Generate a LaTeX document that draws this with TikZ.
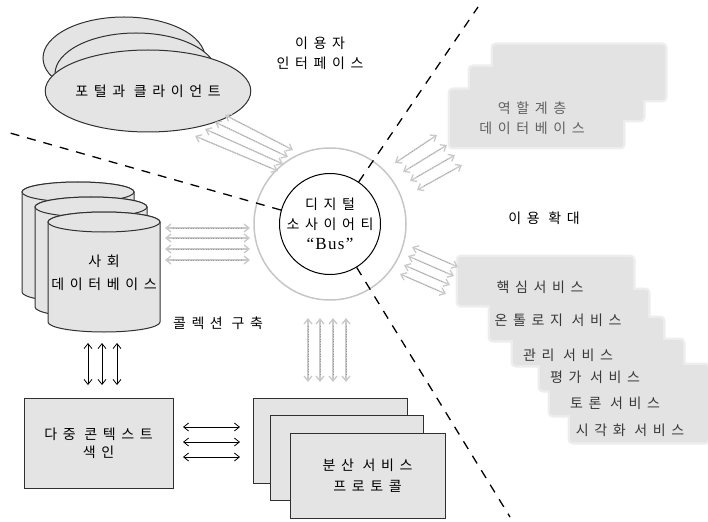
\documentclass[tikz,border=0pt]{standalone}
\usepackage{fontspec}
\newfontfamily\kr[LetterSpace=40]{Noto Sans CJK KR}
\newfontfamily\busfont[LetterSpace=8]{Liberation Serif}
\usetikzlibrary{arrows.meta,shapes.geometric}
\definecolor{fillg}{HTML}{E4E4E4}
\definecolor{softg}{HTML}{E3E3E3}
\definecolor{softedge}{HTML}{EDEDED}
\definecolor{lineg}{HTML}{303030}
\definecolor{arrg}{HTML}{C9C9C9}
\definecolor{ringg}{HTML}{C6C6C6}
\newcommand\dbcyl[2]{%
  \filldraw[solidshape] ({#1-56},#2) -- ({#1-56},{#2+100})
    arc[start angle=180,end angle=360,x radius=56pt,y radius=10pt]
    -- ({#1+56},#2)
    arc[start angle=0,end angle=180,x radius=56pt,y radius=10pt] -- cycle;
  \draw[solidshape] (#1,#2) ellipse[x radius=56pt,y radius=10pt];
}
\begin{document}
\begin{tikzpicture}[x=1pt,y=-1pt,
  txt/.style={font=\kr\fontsize{14}{20}\selectfont, align=center, inner sep=0pt},
  solidshape/.style={fill=fillg, draw=lineg, line width=1pt},
  divider/.style={line width=1.3pt, dash pattern=on 9pt off 8pt},
  garrow/.style={draw=arrg, line width=1.3pt,
    {Straight Barb[length=5pt,width=8pt]}-{Straight Barb[length=5pt,width=8pt]},
    postaction={draw=gray!80, line width=0.5pt, dash pattern=on 1pt off 1.5pt,
      shorten <=8pt, shorten >=8pt, -}},
  barrow/.style={draw=black, line width=0.8pt,
    {Straight Barb[length=5pt,width=8pt]}-{Straight Barb[length=5pt,width=8pt]}},
  servtxt/.style={txt, text=black!78},
]
\useasboundingbox (0,0) rectangle (708,521);

% ---- portal ellipses
\draw[solidshape] (124,58) ellipse[x radius=81pt, y radius=41pt];
\draw[solidshape] (136,74) ellipse[x radius=81pt, y radius=41pt];
\node[ellipse, solidshape, minimum width=164pt, minimum height=82pt, txt] (portal) at (148,91) {포털과 클라이언트};

% ---- labels
\node[txt] (ui) at (320,53) {이용자\\인터페이스};
\node[txt] (expand) at (544,218) {이용 확대};
\node[txt] (collect) at (218,323) {콜렉션 구축};

% ---- social database cylinders
\dbcyl{78}{192}
\dbcyl{91}{207}
\dbcyl{104}{222}
\node[txt, font=\kr\fontsize{14}{23}\selectfont] (socdb) at (104,273) {사회\\데이터베이스};

% ---- multi-context index
\node[solidshape, minimum width=149pt, minimum height=90pt, txt, font=\kr\fontsize{14}{18}\selectfont] (index) at (98.5,443) {다중 콘텍스트\\색인};

% ---- distributed service protocol
\path[solidshape] (253,398) rectangle (407,483);
\path[solidshape] (270,415) rectangle (423,500);
\node[solidshape, minimum width=155pt, minimum height=85pt, txt, font=\kr\fontsize{14}{21}\selectfont] (proto) at (367.5,475.5) {분산 서비스\\프로토콜};

% ---- role hierarchy database (soft boxes)
\foreach \a/\b/\c/\d in {493/45/665/100, 470/67/643/120, 450/90/623/147}
  \path[draw=softedge, line width=5pt, rounded corners=3pt] (\a,\b) rectangle (\c,\d);
\foreach \a/\b/\c/\d in {493/45/665/100, 470/67/643/120, 450/90/623/147}
  \path[fill=softg, rounded corners=3pt] (\a,\b) rectangle (\c,\d);
\node[txt, text=black!62] (role) at (532,118) {역할계층\\데이터베이스};

% ---- services staircase (soft boxes)
\foreach \a/\b/\c/\d in {458/257/633/305, 490/290/648/340, 513/318/663/365, 540/340/683/390, 550/365/708/415, 570/390/708/442}
  \path[draw=softedge, line width=5pt, rounded corners=3pt] (\a,\b) rectangle (\c,\d);
\foreach \a/\b/\c/\d in {458/257/633/305, 490/290/648/340, 513/318/663/365, 540/340/683/390, 550/365/708/415, 570/390/708/442}
  \path[fill=softg, rounded corners=3pt] (\a,\b) rectangle (\c,\d);
\node[servtxt] (core) at (540,287) {핵심서비스};
\node[servtxt] (onto) at (558,320) {온톨로지 서비스};
\node[servtxt] (mgmt) at (568,355) {관리 서비스};
\node[servtxt] (eval) at (595,377) {평가 서비스};
\node[servtxt] (disc) at (615,403) {토론 서비스};
\node[servtxt] (visu) at (630,430) {시각화 서비스};

% ---- bus circles
\node[circle, draw=ringg, line width=1.5pt, minimum size=152pt, inner sep=0pt] (ring) at (330,224) {};
\node[circle, draw=black, fill=white, line width=1pt, minimum size=92pt, txt] (bus) at (330,224)
  {디지털\\소사이어티\\{\busfont\fontsize{17}{20}\selectfont\textquotedblleft Bus\textquotedblright}};

% ---- dashed dividers
\coordinate (d1) at (478,7);
\coordinate (d2) at (10,133);
\coordinate (d3) at (510,517);
\draw[divider] (bus) -- (d1);
\draw[divider] (bus) -- (d2);
\draw[divider] (bus) -- (d3);

% ---- pale double arrows
\foreach \i/\x/\y/\u/\v in {1/225/115/293/150, 2/215/122/288/157, 3/205/129/283/164, 4/195/136/278/171} {
  \coordinate (pa\i) at (\x,\y); \coordinate (pb\i) at (\u,\v);
  \draw[garrow] (pa\i) -- (pb\i);
}
\foreach \i/\x/\y/\u/\v in {1/395/163/437/135, 2/403/172/447/145, 3/410/181/455/155, 4/417/190/462/165} {
  \coordinate (ra\i) at (\x,\y); \coordinate (rb\i) at (\u,\v);
  \draw[garrow] (ra\i) -- (rb\i);
}
\foreach \i/\x/\y/\u/\v in {1/412/247/458/267, 2/408/256/454/276, 3/404/265/450/285, 4/400/274/446/294} {
  \coordinate (sa\i) at (\x,\y); \coordinate (sb\i) at (\u,\v);
  \draw[garrow] (sa\i) -- (sb\i);
}
\foreach \i/\y in {1/228, 2/238, 3/249, 4/260} {
  \coordinate (da\i) at (165,\y); \coordinate (db\i) at (250,\y);
  \draw[garrow] (da\i) -- (db\i);
}
\foreach \i/\x in {1/308, 2/320, 3/333, 4/346} {
  \coordinate (va\i) at (\x,318); \coordinate (vb\i) at (\x,382);
  \draw[garrow] (va\i) -- (vb\i);
}

% ---- black double arrows
\foreach \i/\x in {1/88, 2/102, 3/117} {
  \coordinate (ka\i) at (\x,343); \coordinate (kb\i) at (\x,385);
  \draw[barrow] (ka\i) -- (kb\i);
}
\foreach \i/\y in {1/427, 2/442, 3/457} {
  \coordinate (ha\i) at (183,\y); \coordinate (hb\i) at (240,\y);
  \draw[barrow] (ha\i) -- (hb\i);
}
\end{tikzpicture}
\end{document}
